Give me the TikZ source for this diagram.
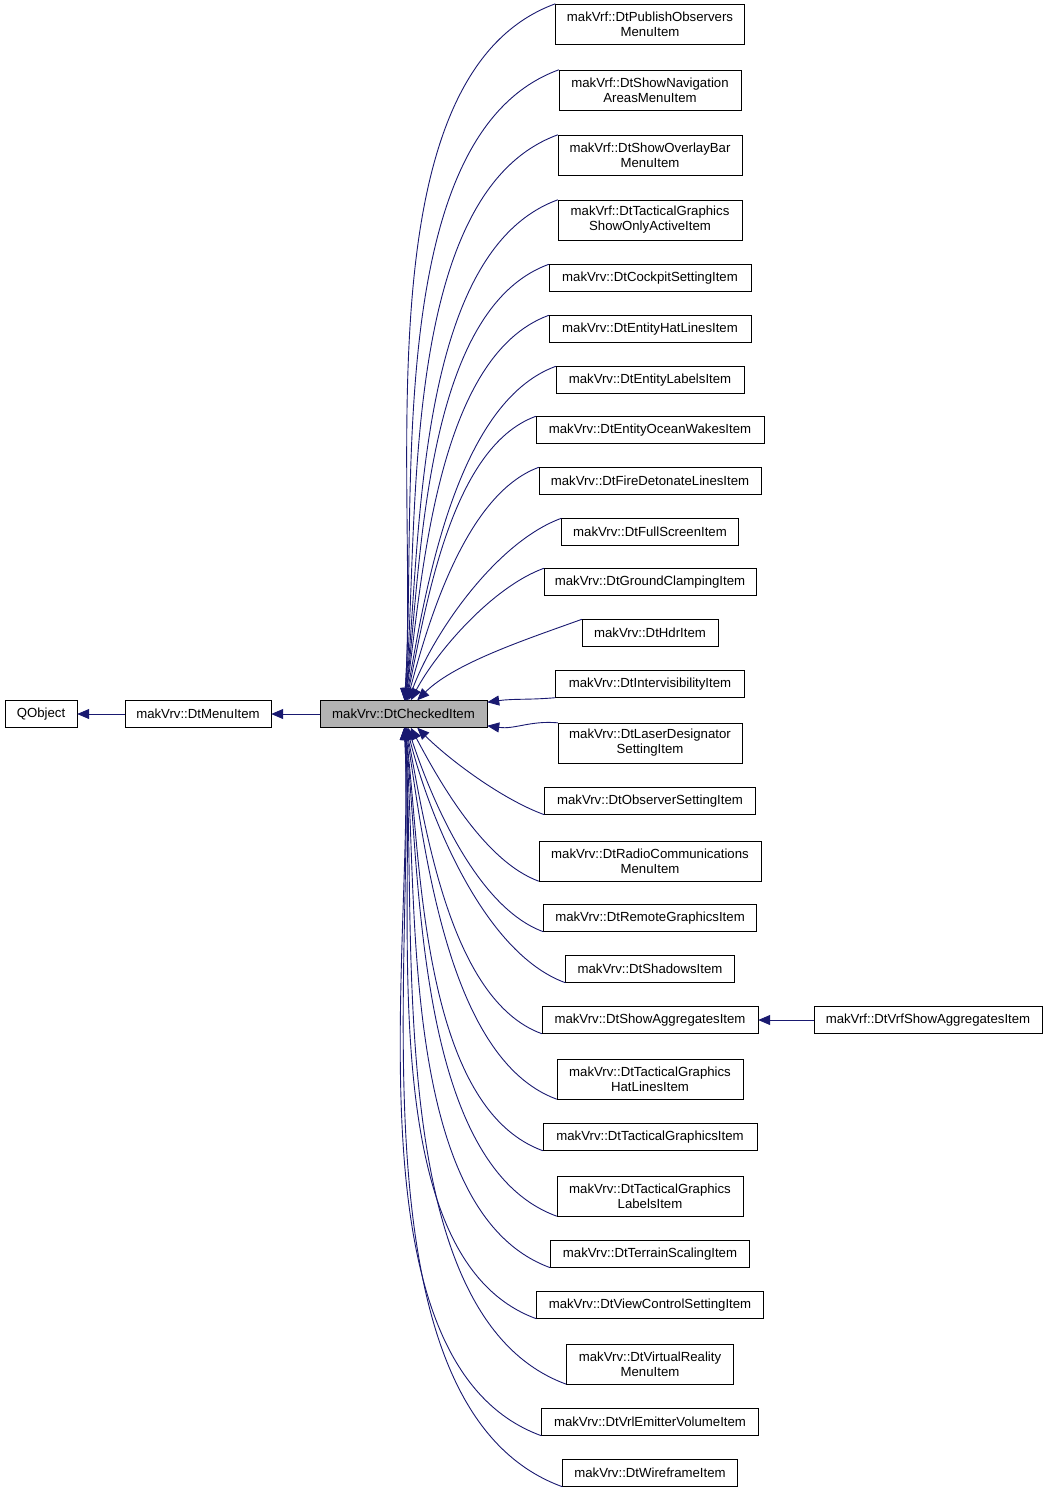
\documentclass[tikz,border=0pt]{standalone}
\usepackage{fontspec}
\setmainfont{Liberation Sans}
\usetikzlibrary{arrows.meta}
\definecolor{edgeblue}{HTML}{191970}
\tikzset{
    cls/.style={
        rectangle, draw=black, fill=white, inner sep=0pt,
        minimum height=27pt, align=center,
        font=\fontsize{13.2}{15}\selectfont
    },
    cls2/.style={cls, minimum height=40pt},
    edge/.style={draw=edgeblue, line width=0.9pt, -{Triangle[length=12pt,width=10pt]}}
}
\begin{document}
\begin{tikzpicture}[x=1pt,y=-1pt]
\useasboundingbox (0,0) rectangle (1048,1493);

% base classes
\node[cls, minimum width=72pt] (qobj) at (41,714) {QObject};
\node[cls, minimum width=146pt] (menu) at (198,714) {makVrv::DtMenuItem};
\node[cls, minimum width=167pt, fill=black!30] (ck) at (403.5,714) {makVrv::DtCheckedItem};

\draw[edge] (menu) -- (qobj);
\draw[edge] (ck) -- (menu);

% derived classes, two lines
\foreach \n/\y/\w/\t in {
    pub/24/189/{makVrf::DtPublishObservers\\MenuItem},
    nav/90/182/{makVrf::DtShowNavigation\\AreasMenuItem},
    ovl/155/184/{makVrf::DtShowOverlayBar\\MenuItem},
    tga/220/184/{makVrf::DtTacticalGraphics\\ShowOnlyActiveItem},
    las/743/184/{makVrv::DtLaserDesignator\\SettingItem},
    rad/861/222/{makVrv::DtRadioCommunications\\MenuItem},
    tgh/1079/186/{makVrv::DtTacticalGraphics\\HatLinesItem},
    tgl/1196/186/{makVrv::DtTacticalGraphics\\LabelsItem},
    vr/1364/167/{makVrv::DtVirtualReality\\MenuItem}}
    \node[cls2, minimum width=\w pt] (\n) at (650,\y) {\t};

% derived classes, one line
\foreach \n/\y/\w/\t in {
    cock/278/202/makVrv::DtCockpitSettingItem,
    hat/329/202/makVrv::DtEntityHatLinesItem,
    lab/380/188/makVrv::DtEntityLabelsItem,
    ocn/430/228/makVrv::DtEntityOceanWakesItem,
    fire/481/222/makVrv::DtFireDetonateLinesItem,
    full/532/177/makVrv::DtFullScreenItem,
    grnd/582/212/makVrv::DtGroundClampingItem,
    hdr/633/136/makVrv::DtHdrItem,
    vis/684/189/makVrv::DtIntervisibilityItem,
    obs/801/211/makVrv::DtObserverSettingItem,
    rem/918/213/makVrv::DtRemoteGraphicsItem,
    shd/969/169/makVrv::DtShadowsItem,
    agg/1020/216/makVrv::DtShowAggregatesItem,
    tgi/1137/214/makVrv::DtTacticalGraphicsItem,
    ter/1254/199/makVrv::DtTerrainScalingItem,
    view/1305/227/makVrv::DtViewControlSettingItem,
    vrl/1422/217/makVrv::DtVrlEmitterVolumeItem,
    wire/1473/175/makVrv::DtWireframeItem}
    \node[cls, minimum width=\w pt] (\n) at (650,\y) {\t};

\node[cls, minimum width=228pt] (vrfagg) at (928,1020) {makVrf::DtVrfShowAggregatesItem};
\draw[edge] (vrfagg) -- (agg);

% inheritance edges
\foreach \n/\a in {pub/86, nav/86, ovl/85, tga/84, cock/83, hat/82, lab/80,
    ocn/78, fire/75, full/70, grnd/62, hdr/45}
    \draw[edge] (\n.north west) to[out=200, in=\a, looseness=0.75] (ck);
\draw[edge] (vis.south west) to[out=185, in=8] (ck);
\draw[edge] (las.north west) to[out=175, in=-8] (ck);
\foreach \n/\a in {obs/-45, rad/-62, rem/-72, shd/-76, agg/-79, tgh/-81,
    tgi/-83, tgl/-84, ter/-85, view/-86, vr/-86, vrl/-87, wire/-87}
    \draw[edge] (\n.south west) to[out=160, in=\a, looseness=0.75] (ck);

\end{tikzpicture}
\end{document}
